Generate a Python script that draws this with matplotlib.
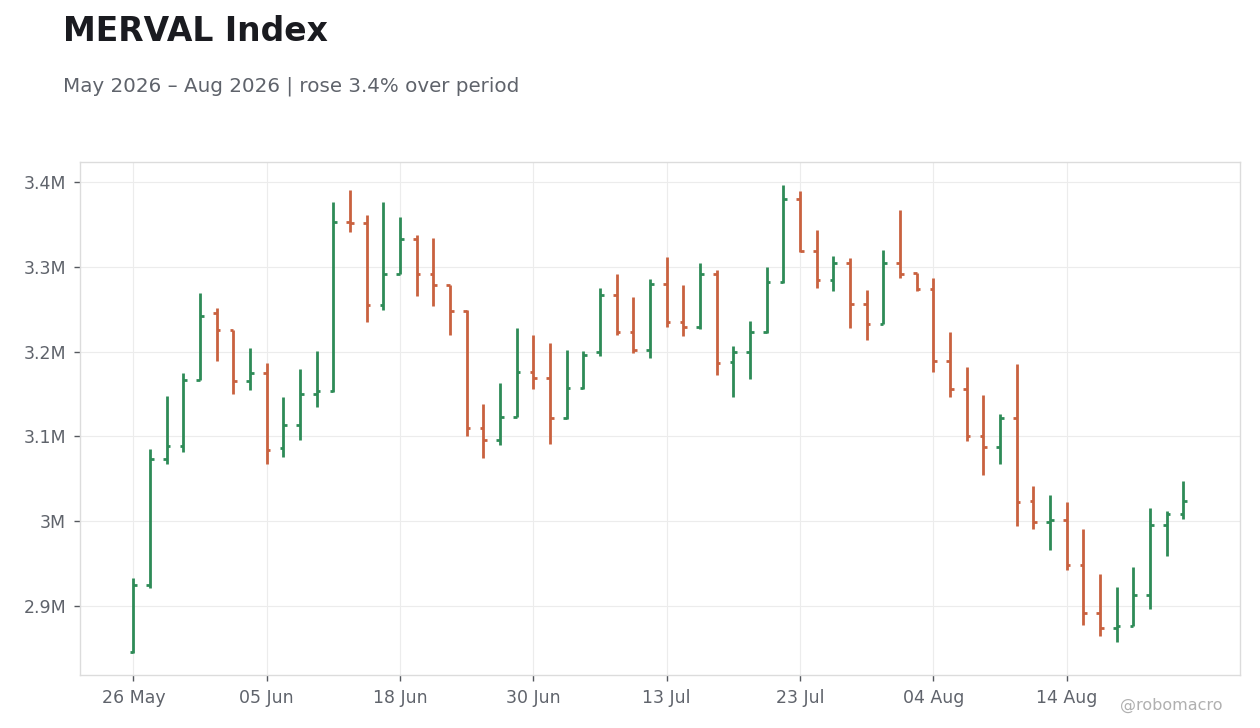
#MERVAL Index - grafico OHLC
import pandas as pd
import matplotlib
matplotlib.use("Agg")
import matplotlib.pyplot as plt
from matplotlib.ticker import FuncFormatter

#Paso 1. Datos (valores en millones de puntos)
open_m = [
    2.846, 2.925, 3.073, 3.089, 3.167, 3.245, 3.225, 3.165, 3.175, 3.086,
    3.113, 3.150, 3.153, 3.353, 3.352, 3.255, 3.292, 3.333, 3.292, 3.278,
    3.248, 3.110, 3.096, 3.123, 3.176, 3.169, 3.122, 3.157, 3.199, 3.267,
    3.223, 3.202, 3.280, 3.235, 3.229, 3.291, 3.188, 3.200, 3.223, 3.282,
    3.380, 3.319, 3.284, 3.305, 3.256, 3.233, 3.305, 3.293, 3.274, 3.189,
    3.156, 3.101, 3.087, 3.122, 3.024, 2.999, 3.001, 2.948, 2.892, 2.874,
    2.876, 2.913, 2.995, 3.009,
]
high_m = [
    2.933, 3.085, 3.148, 3.175, 3.269, 3.251, 3.225, 3.204, 3.187, 3.146,
    3.179, 3.201, 3.376, 3.391, 3.361, 3.376, 3.359, 3.338, 3.334, 3.279,
    3.249, 3.138, 3.163, 3.228, 3.220, 3.210, 3.202, 3.201, 3.275, 3.292,
    3.264, 3.286, 3.312, 3.279, 3.304, 3.296, 3.207, 3.236, 3.300, 3.396,
    3.389, 3.343, 3.313, 3.310, 3.273, 3.320, 3.367, 3.293, 3.287, 3.223,
    3.182, 3.149, 3.126, 3.185, 3.041, 3.031, 3.023, 2.991, 2.938, 2.922,
    2.946, 3.016, 3.012, 3.047,
]
low_m = [
    2.845, 2.921, 3.068, 3.082, 3.166, 3.189, 3.150, 3.155, 3.067, 3.076,
    3.096, 3.135, 3.152, 3.341, 3.235, 3.249, 3.291, 3.266, 3.254, 3.220,
    3.101, 3.074, 3.090, 3.123, 3.156, 3.091, 3.121, 3.156, 3.195, 3.220,
    3.198, 3.193, 3.229, 3.218, 3.227, 3.172, 3.146, 3.168, 3.222, 3.281,
    3.317, 3.275, 3.272, 3.228, 3.214, 3.232, 3.287, 3.271, 3.176, 3.147,
    3.095, 3.055, 3.067, 2.994, 2.991, 2.966, 2.943, 2.878, 2.865, 2.857,
    2.876, 2.897, 2.959, 3.003,
]
close_m = [
    2.925, 3.073, 3.089, 3.167, 3.242, 3.225, 3.165, 3.175, 3.084, 3.113,
    3.150, 3.153, 3.353, 3.352, 3.255, 3.292, 3.333, 3.292, 3.278, 3.248,
    3.110, 3.096, 3.123, 3.176, 3.169, 3.122, 3.157, 3.196, 3.267, 3.223,
    3.202, 3.280, 3.235, 3.229, 3.291, 3.186, 3.200, 3.223, 3.282, 3.380,
    3.319, 3.284, 3.305, 3.256, 3.233, 3.305, 3.292, 3.274, 3.189, 3.156,
    3.101, 3.087, 3.122, 3.023, 2.999, 3.001, 2.948, 2.892, 2.874, 2.876,
    2.913, 2.995, 3.009, 3.024,
]
#dias habiles de Argentina (sin feriados)
feriados = ["2026-06-15", "2026-07-09", "2026-08-17"]
fechas = pd.bdate_range("2026-05-26", periods=len(close_m), freq="C", holidays=feriados)

#Paso 2. DataFrame
df = pd.DataFrame({"Open": open_m, "High": high_m, "Low": low_m, "Close": close_m}, index=fechas)
df["x"] = range(len(df))
cambio = (df["Close"].iloc[-1] / df["Close"].iloc[0] - 1) * 100

#Colores
verde = "#2E8B57"
rojo = "#C9613F"
gris_texto = "#5F636B"
colores = [verde if c >= o else rojo for o, c in zip(df["Open"], df["Close"])]

#Paso 3. Figura
fig = plt.figure(figsize=(12.6, 7.28), dpi=100)
ax = fig.add_axes([0.0635, 0.0728, 0.9206, 0.7047])

w = 0.22
ax.vlines(df["x"], df["Low"], df["High"], colors=colores, linewidth=2, zorder=3)
ax.hlines(df["Open"], df["x"] - w, df["x"], colors=colores, linewidth=2, zorder=3)
ax.hlines(df["Close"], df["x"], df["x"] + w, colors=colores, linewidth=2, zorder=3)

#Ejes
ax.set_xlim(-3.2, 66.4)
ax.set_ylim(2.8186, 3.4236)
ax.set_yticks([2.9, 3.0, 3.1, 3.2, 3.3, 3.4])
ax.yaxis.set_major_formatter(FuncFormatter(lambda v, p: f"{v:g}M"))
pos = df["x"].iloc[::8]
ax.set_xticks(pos)
ax.set_xticklabels(df.index[::8].strftime("%d %b"))
ax.tick_params(axis="both", labelsize=12.5, labelcolor=gris_texto, color="#55585e",
               length=4, width=1, pad=6)
ax.grid(True, color="#ececec", linewidth=0.8, zorder=0)
ax.set_axisbelow(True)
for s in ax.spines.values():
    s.set_color("#dcdcdc")
    s.set_linewidth(1)

#Paso 4. Titulos
fig.text(0.05, 0.957, "MERVAL Index", fontsize=23.8, fontweight="bold",
         color="#1a1b20", va="center", ha="left")
fig.text(0.05, 0.882, f"May 2026 – Aug 2026 | rose {cambio:.1f}% over period",
         fontsize=14.3, color=gris_texto, va="center", ha="left")
fig.text(0.970, 0.031, "@robomacro", fontsize=11.5, color="#b0b0b0",
         va="center", ha="right")

#Paso 5. Guardar
fig.savefig("out.png", dpi=100)
